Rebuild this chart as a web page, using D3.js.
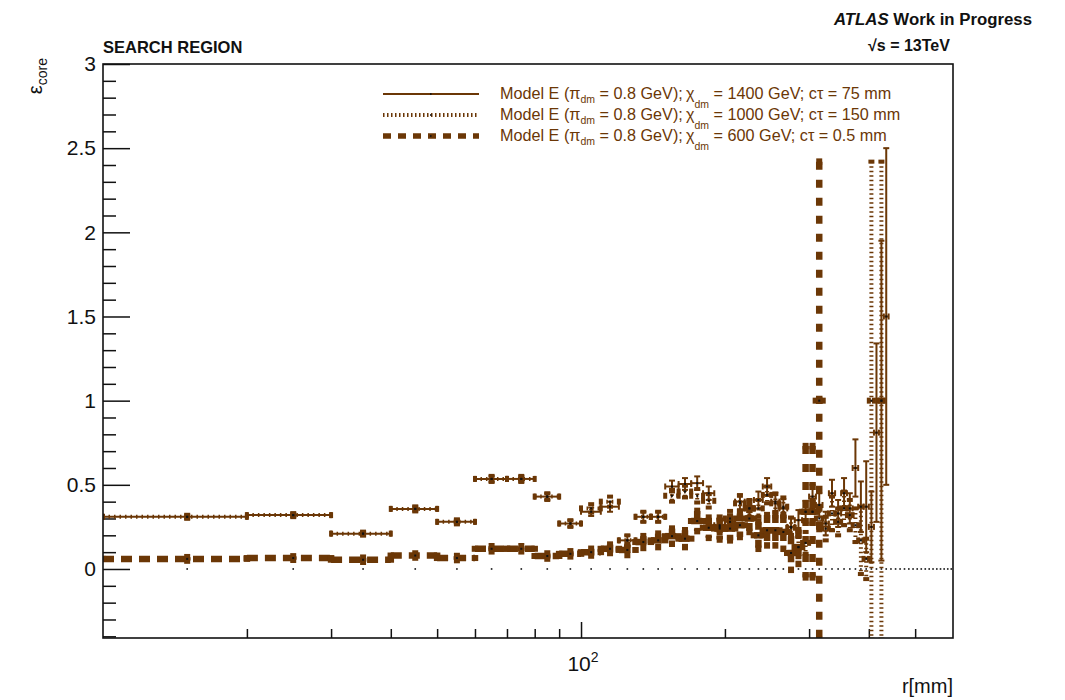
<!DOCTYPE html>
<html>
<head>
<meta charset="utf-8">
<script src="https://cdn.jsdelivr.net/npm/d3@7"></script>
<style>
  html, body { margin: 0; padding: 0; background: #fff; }
  svg { display: block; font-family: "Liberation Sans", Arial, Helvetica, sans-serif; }
</style>
</head>
<body>
<div id="chart"></div>
<script>
// ── Data ──
const BIN_WIDTH = 10; // mm
const binCenters = [15, 25, 35, 45, 55, 65, 75, 85, 95, 105, 115, 125, 135, 145, 155, 165, 175, 185, 195, 205,
  215, 225, 235, 245, 255, 265, 275, 285, 295, 305, 315, 325, 335, 345, 355, 365, 375, 385, 395, 405, 415, 425, 435];

// 1400 GeV, ctau 75 mm (solid)
const s1Val = [0.31, 0.32, 0.21, 0.357, 0.28, 0.535, 0.535, 0.43, 0.27, 0.34, 0.37, 0.17, 0.31, 0.31, 0.49, 0.505, 0.51, 0.45, 0.26, 0.28,
  0.40, 0.36, 0.41, 0.49, 0.40, 0.36, 0.25, 0.29, 0.34, 0.43, 0.38, 0.27, 0.45, 0.33, 0.45, 0.36, 0.60, 0.37, 0.37, 0.25, 0.81, 1.0, 1.5];
const s1Err = [0.012, 0.012, 0.012, 0.015, 0.015, 0.018, 0.018, 0.02, 0.02, 0.025, 0.03, 0.03, 0.03, 0.03, 0.035, 0.035, 0.04, 0.04, 0.04, 0.045,
  0.045, 0.05, 0.05, 0.05, 0.055, 0.055, 0.06, 0.06, 0.065, 0.07, 0.07, 0.07, 0.08, 0.08, 0.09, 0.09, 0.17, 0.15, 0.27, 0.21, 0.53, 0.95, 1.0];

// 1000 GeV, ctau 150 mm (dotted)
const s2Val = [0.31, 0.32, 0.21, 0.357, 0.28, 0.535, 0.535, 0.43, 0.27, 0.36, 0.40, 0.17, 0.31, 0.31, 0.435, 0.46, 0.435, 0.405, 0.25, 0.30,
  0.39, 0.36, 0.36, 0.44, 0.39, 0.37, 0.245, 0.13, 0.155, 0.34, 0.30, 0.24, 0.33, 0.28, 0.36, 0.32, 0.26, 0.17, 0.06, 1.0, null, 1.0, null];
const s2Err = [0.012, 0.012, 0.012, 0.015, 0.015, 0.018, 0.018, 0.02, 0.02, 0.025, 0.03, 0.03, 0.03, 0.03, 0.035, 0.035, 0.04, 0.04, 0.04, 0.045,
  0.045, 0.05, 0.05, 0.05, 0.055, 0.055, 0.06, 0.06, 0.065, 0.07, 0.07, 0.07, 0.1, 0.08, 0.1, 0.09, 0.1, 0.2, 0.12, 1.42, null, 1.42, null];

// 600 GeV, ctau 0.5 mm (dashed)
const s3Val = [0.06, 0.065, 0.055, 0.08, 0.065, 0.12, 0.12, 0.077, 0.09, 0.10, 0.12, 0.113, 0.16, 0.17, 0.195, 0.18, 0.285, 0.245, 0.24, 0.24,
  0.26, 0.30, 0.20, 0.23, 0.23, 0.22, 0.095, 0.13, 0.34, 0.34, 1.0];
const s3Err = [0.01, 0.01, 0.012, 0.012, 0.012, 0.015, 0.015, 0.015, 0.015, 0.02, 0.025, 0.03, 0.035, 0.04, 0.045, 0.05, 0.06, 0.06, 0.065, 0.07,
  0.07, 0.08, 0.08, 0.09, 0.09, 0.1, 0.1, 0.1, 0.39, 0.39, 1.42];

// empty reference histogram, one dot per bin at zero
const zeroCenters = d3.range(15, 600, 10);

const seriesLabels = ["1400 GeV; c\u03c4 = 75 mm", "1000 GeV; c\u03c4 = 150 mm", "600 GeV; c\u03c4 = 0.5 mm"];
const yMajorTicks = [0, 0.5, 1, 1.5, 2, 2.5, 3];
const xMinorTicks = [20, 30, 40, 50, 60, 70, 80, 90, 200, 300, 400, 500];
const xMajorTicks = [100];

const BROWN = "#6b3706";

// ── Layout ──
const W = 1065, H = 700;
const frame = { left: 103, right: 953, top: 64, bottom: 638 };

const svg = d3.select("#chart").append("svg")
  .attr("width", W).attr("height", H);

const x = d3.scaleLog().domain([10, 600]).range([frame.left, frame.right]);
const y = d3.scaleLinear().domain([-0.41, 3]).range([frame.bottom, frame.top]);

svg.append("defs").append("clipPath").attr("id", "clip")
  .append("rect")
  .attr("x", frame.left).attr("y", frame.top)
  .attr("width", frame.right - frame.left).attr("height", frame.bottom - frame.top);

// ── Axes ──
const yMinor = d3.range(-4, 31).map(i => i / 10).filter(v => v >= -0.41 && Math.abs(v * 2 - Math.round(v * 2)) > 1e-6);

svg.append("g").attr("transform", `translate(${frame.left},0)`)
  .call(d3.axisLeft(y).tickValues(yMinor).tickSize(-13).tickFormat(""))
  .call(g => g.select(".domain").remove())
  .call(g => g.selectAll("line").attr("stroke", "#111").attr("stroke-width", 1.5));

svg.append("g").attr("transform", `translate(${frame.left},0)`)
  .call(d3.axisLeft(y).tickValues(yMajorTicks).tickSize(-27).tickPadding(7).tickFormat(d => d))
  .call(g => g.select(".domain").remove())
  .call(g => g.selectAll("line").attr("stroke", "#111").attr("stroke-width", 1.5))
  .call(g => g.selectAll("text").attr("font-size", 21).attr("fill", "#111")
    .attr("font-family", "Liberation Sans, Arial, sans-serif"));

svg.append("g").attr("transform", `translate(0,${frame.bottom})`)
  .call(d3.axisBottom(x).tickValues(xMinorTicks).tickSize(-9).tickFormat(""))
  .call(g => g.select(".domain").remove())
  .call(g => g.selectAll("line").attr("stroke", "#111").attr("stroke-width", 1.5));

svg.append("g").attr("transform", `translate(0,${frame.bottom})`)
  .call(d3.axisBottom(x).tickValues(xMajorTicks).tickSize(-16).tickFormat(""))
  .call(g => g.select(".domain").remove())
  .call(g => g.selectAll("line").attr("stroke", "#111").attr("stroke-width", 1.5));

// 10^2 label
const lab = svg.append("text")
  .attr("x", x(100) + 2).attr("y", 671)
  .attr("text-anchor", "middle").attr("font-size", 21).attr("fill", "#111");
lab.append("tspan").text("10");
lab.append("tspan").attr("font-size", 14).attr("dy", -9).text("2");

svg.append("text")
  .attr("x", frame.right).attr("y", 693)
  .attr("text-anchor", "end").attr("font-size", 20).attr("fill", "#111")
  .text("r[mm]");

const yt = svg.append("text")
  .attr("transform", "translate(42,58) rotate(-90)")
  .attr("text-anchor", "end").attr("font-size", 20).attr("fill", "#111");
yt.append("tspan").text("\u03b5");
yt.append("tspan").attr("font-size", 14).attr("dy", 5).text("core");

// ── Plot ──
const plot = svg.append("g").attr("clip-path", "url(#clip)");

// zero-bin dots
plot.append("g").selectAll("rect")
  .data(zeroCenters)
  .join("rect")
  .attr("x", d => x(d) - 0.8).attr("y", y(0) - 0.8)
  .attr("width", 1.6).attr("height", 1.6)
  .attr("fill", "#111");

function drawSeries(vals, errs, style) {
  const pts = binCenters.map((c, i) => ({ c, v: vals[i], e: errs[i] }))
    .filter(p => p.v !== null && p.v !== undefined);
  const g = plot.append("g")
    .attr("stroke", BROWN).attr("stroke-width", style.width).attr("fill", "none");
  const cap = style.cap;
  pts.forEach(p => {
    const x0 = x(p.c - BIN_WIDTH / 2), x1 = x(p.c + BIN_WIDTH / 2), xc = x(p.c);
    const yv = y(p.v), yLo = y(p.v - p.e), yHi = y(p.v + p.e);
    // horizontal bar across the bin
    g.append("line").attr("x1", x0).attr("x2", x1).attr("y1", yv).attr("y2", yv)
      .attr("stroke-dasharray", style.hDash);
    g.append("line").attr("x1", x0).attr("x2", x0).attr("y1", yv - cap).attr("y2", yv + cap);
    g.append("line").attr("x1", x1).attr("x2", x1).attr("y1", yv - cap).attr("y2", yv + cap);
    // vertical error
    g.append("line").attr("x1", xc).attr("x2", xc).attr("y1", yHi).attr("y2", yLo)
      .attr("stroke-dasharray", style.vDash);
    g.append("line").attr("x1", xc - cap).attr("x2", xc + cap).attr("y1", yHi).attr("y2", yHi);
    g.append("line").attr("x1", xc - cap).attr("x2", xc + cap).attr("y1", yLo).attr("y2", yLo);
  });
  return pts;
}

const styles = [
  { width: 2, hDash: null, vDash: null, cap: 3 },
  { width: 4, hDash: "1.5,4", vDash: "1.5,3", cap: 3 },
  { width: 6.5, hDash: "11,7", vDash: "8,10", cap: 3 }
];

const allPts = [
  drawSeries(s1Val, s1Err, styles[0]),
  drawSeries(s2Val, s2Err, styles[1]),
  drawSeries(s3Val, s3Err, styles[2])
];

// markers
allPts.forEach(pts => {
  plot.append("g").selectAll("rect")
    .data(pts).join("rect")
    .attr("x", p => x(p.c) - 1).attr("y", p => y(p.v) - 1)
    .attr("width", 2).attr("height", 2)
    .attr("fill", "#111");
});

// frame
svg.append("rect")
  .attr("x", frame.left).attr("y", frame.top)
  .attr("width", frame.right - frame.left).attr("height", frame.bottom - frame.top)
  .attr("fill", "none").attr("stroke", "#111").attr("stroke-width", 1.6);

// ── Legend ──
const legendStyles = [
  { width: 2, dash: null },
  { width: 4, dash: "1.5,2.5" },
  { width: 5.5, dash: "8,7" }
];
const legRows = [94, 115, 136];
seriesLabels.forEach((lbl, i) => {
  const ly = legRows[i];
  svg.append("line")
    .attr("x1", 383).attr("x2", 479).attr("y1", ly).attr("y2", ly)
    .attr("stroke", BROWN).attr("stroke-width", legendStyles[i].width)
    .attr("stroke-dasharray", legendStyles[i].dash);
  svg.append("rect").attr("x", 430).attr("y", ly - 0.8).attr("width", 1.6).attr("height", 1.6).attr("fill", "#111");
  const t = svg.append("text")
    .attr("x", 500).attr("y", ly + 5)
    .attr("font-size", 16.2).attr("fill", BROWN);
  t.append("tspan").text("Model E (\u03c0");
  t.append("tspan").attr("font-size", 10.5).attr("dy", 4).text("dm");
  t.append("tspan").attr("dy", -4).text(" = 0.8 GeV);\u2009\u03c7");
  t.append("tspan").attr("font-size", 10.5).attr("dy", 9).text("dm");
  t.append("tspan").attr("dy", -9).text(" = " + lbl);
});

// ── Labels ──
svg.append("text")
  .attr("x", frame.left).attr("y", 53)
  .attr("font-size", 16.5).attr("font-weight", "bold").attr("fill", "#111")
  .text("SEARCH REGION");

const atlas = svg.append("text")
  .attr("x", 1032).attr("y", 25)
  .attr("text-anchor", "end")
  .attr("font-size", 16.8).attr("font-weight", "bold").attr("fill", "#111");
atlas.append("tspan").attr("font-style", "italic").text("ATLAS");
atlas.append("tspan").text(" Work in Progress");

svg.append("text")
  .attr("x", 868).attr("y", 51)
  .attr("font-size", 16).attr("font-weight", "bold").attr("fill", "#111")
  .text("\u221as = 13TeV");
</script>
</body>
</html>
